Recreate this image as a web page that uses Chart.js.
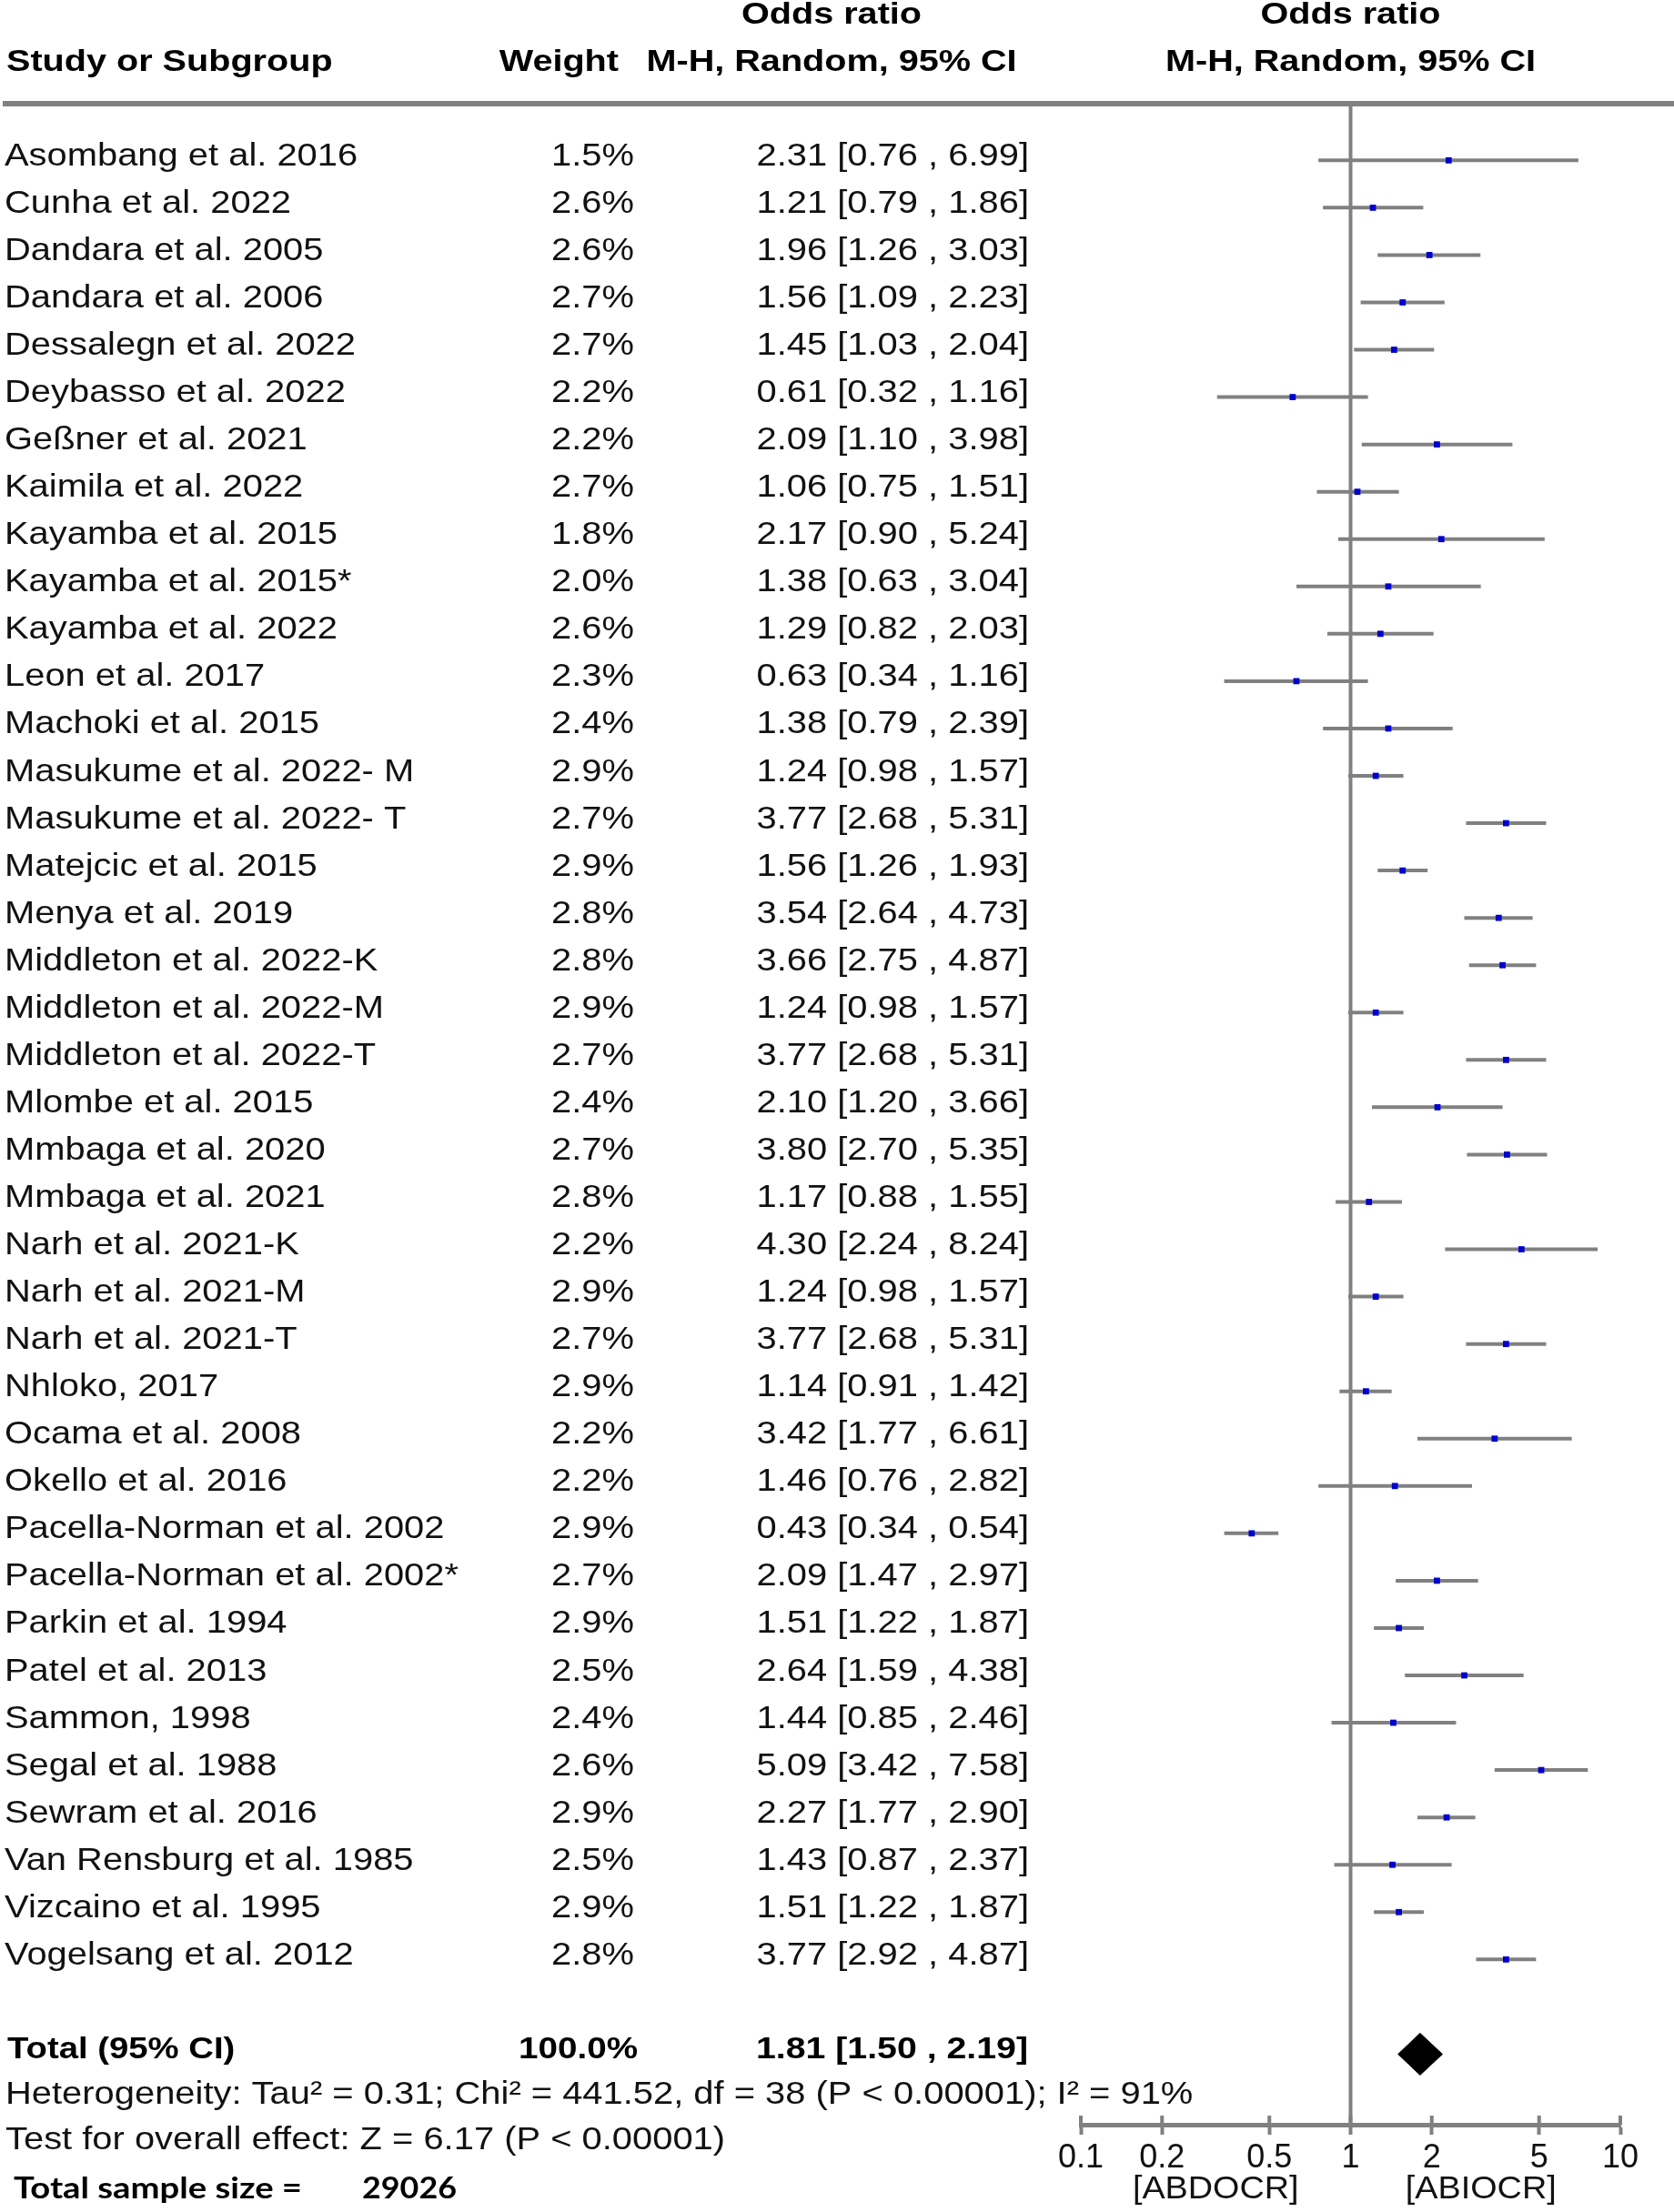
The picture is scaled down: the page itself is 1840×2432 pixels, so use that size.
<!DOCTYPE html>
<html><head><meta charset="utf-8">
<script src="https://cdn.jsdelivr.net/npm/chart.js@4.4.1/dist/chart.umd.min.js"></script>
<style>html,body{margin:0;padding:0;background:#fff}canvas{display:block;background:#fff}</style>
</head><body>
<canvas id="c" width="1840" height="2432"></canvas>
<script>
// ---------- data ----------
const studies = [
  "Asombang et al. 2016","Cunha et al. 2022","Dandara et al. 2005","Dandara et al. 2006",
  "Dessalegn et al. 2022","Deybasso et al. 2022","Geßner et al. 2021","Kaimila et al. 2022",
  "Kayamba et al. 2015","Kayamba et al. 2015*","Kayamba et al. 2022","Leon et al. 2017",
  "Machoki et al. 2015","Masukume et al. 2022- M","Masukume et al. 2022- T","Matejcic et al. 2015",
  "Menya et al. 2019","Middleton et al. 2022-K","Middleton et al. 2022-M","Middleton et al. 2022-T",
  "Mlombe et al. 2015","Mmbaga et al. 2020","Mmbaga et al. 2021","Narh et al. 2021-K",
  "Narh et al. 2021-M","Narh et al. 2021-T","Nhloko, 2017","Ocama et al. 2008",
  "Okello et al. 2016","Pacella-Norman et al. 2002","Pacella-Norman et al. 2002*","Parkin et al. 1994",
  "Patel et al. 2013","Sammon, 1998","Segal et al. 1988","Sewram et al. 2016",
  "Van Rensburg et al. 1985","Vizcaino et al. 1995","Vogelsang et al. 2012"
];
const weights = [
  "1.5%","2.6%","2.6%","2.7%","2.7%","2.2%","2.2%","2.7%","1.8%","2.0%",
  "2.6%","2.3%","2.4%","2.9%","2.7%","2.9%","2.8%","2.8%","2.9%","2.7%",
  "2.4%","2.7%","2.8%","2.2%","2.9%","2.7%","2.9%","2.2%","2.2%","2.9%",
  "2.7%","2.9%","2.5%","2.4%","2.6%","2.9%","2.5%","2.9%","2.8%"
];
const oddsRatios = [
  2.31,1.21,1.96,1.56,1.45,0.61,2.09,1.06,2.17,1.38,
  1.29,0.63,1.38,1.24,3.77,1.56,3.54,3.66,1.24,3.77,
  2.10,3.80,1.17,4.30,1.24,3.77,1.14,3.42,1.46,0.43,
  2.09,1.51,2.64,1.44,5.09,2.27,1.43,1.51,3.77
];
const ciLower = [
  0.76,0.79,1.26,1.09,1.03,0.32,1.10,0.75,0.90,0.63,
  0.82,0.34,0.79,0.98,2.68,1.26,2.64,2.75,0.98,2.68,
  1.20,2.70,0.88,2.24,0.98,2.68,0.91,1.77,0.76,0.34,
  1.47,1.22,1.59,0.85,3.42,1.77,0.87,1.22,2.92
];
const ciUpper = [
  6.99,1.86,3.03,2.23,2.04,1.16,3.98,1.51,5.24,3.04,
  2.03,1.16,2.39,1.57,5.31,1.93,4.73,4.87,1.57,5.31,
  3.66,5.35,1.55,8.24,1.57,5.31,1.42,6.61,2.82,0.54,
  2.97,1.87,4.38,2.46,7.58,2.90,2.37,1.87,4.87
];
const totalLabel = "Total (95% CI)";
const totalWeight = "100.0%";
const totalOR = 1.81, totalLower = 1.50, totalUpper = 2.19;
const xTickValues = [0.1, 0.2, 0.5, 1, 2, 5, 10];
const heterogeneityText = "Heterogeneity: Tau\u00B2 = 0.31; Chi\u00B2 = 441.52, df = 38 (P < 0.00001); I\u00B2 = 91%";
const overallEffectText = "Test for overall effect: Z = 6.17 (P < 0.00001)";
const sampleSizeLabel = "Total sample size =";
const sampleSizeValue = "29026";
const favoursLeft = "[ABDOCR]", favoursRight = "[ABIOCR]";
const headerStudy = "Study or Subgroup", headerWeight = "Weight";
const headerOR = "Odds ratio", headerMethod = "M-H, Random, 95% CI";

// ---------- layout constants ----------
const TOTAL_ROW = 40;
const Y_MIN = -1.197, Y_MAX = 41.49;
const GRAY = '#808080';
const BODY = '35px "Liberation Sans", Arial, sans-serif';
const BOLD = 'bold 33px "Liberation Sans", Arial, sans-serif';

function fmt(v){ return v.toFixed(2); }
function orText(o,l,h){ return fmt(o) + " [" + fmt(l) + " , " + fmt(h) + "]"; }

function txt(ctx, s, x, y, font, align, sx, color, targetW){
  ctx.save();
  ctx.font = font;
  ctx.fillStyle = color || '#000';
  ctx.textAlign = align;
  ctx.textBaseline = 'alphabetic';
  if (targetW) { sx = targetW / ctx.measureText(s).width; }
  ctx.translate(x, y);
  ctx.scale(sx, 1);
  ctx.fillText(s, 0, 0);
  ctx.restore();
}

// ---------- datasets ----------
const datasets = [];
// reference line at OR = 1
datasets.push({
  data: [{x:1, y:Y_MIN}, {x:1, y:Y_MAX}],
  showLine: true, borderColor: GRAY, borderWidth: 4, pointRadius: 0, order: 3
});
studies.forEach((s, i) => {
  datasets.push({
    data: [{x: ciLower[i], y: i}, {x: ciUpper[i], y: i}],
    showLine: true, borderColor: GRAY, borderWidth: 4, pointRadius: 0, order: 2
  });
});
datasets.push({
  data: oddsRatios.map((v, i) => ({x: v, y: i})),
  pointStyle: 'rect', pointRadius: 4.8, backgroundColor: '#0000CC', borderWidth: 0, order: 0
});
const DH = 0.442;
datasets.push({
  data: [{x: totalLower, y: TOTAL_ROW}, {x: totalOR, y: TOTAL_ROW - DH}, {x: totalUpper, y: TOTAL_ROW},
         {x: totalOR, y: TOTAL_ROW + DH}, {x: totalLower, y: TOTAL_ROW}],
  showLine: true, fill: 'shape', backgroundColor: '#000', borderColor: '#000', borderWidth: 1, pointRadius: 0,
  tension: 0, order: 0
});

// ---------- text plugin ----------
const forestText = {
  id: 'forestText',
  afterDraw(chart){
    const ctx = chart.ctx;
    const ys = chart.scales.y, xs = chart.scales.x;
    // header line
    ctx.save();
    ctx.strokeStyle = GRAY; ctx.lineWidth = 6;
    ctx.beginPath(); ctx.moveTo(3, chart.chartArea.top); ctx.lineTo(1840, chart.chartArea.top); ctx.stroke();
    // upward part of axis ticks
    ctx.lineWidth = 4;
    xTickValues.forEach(v => {
      const px = xs.getPixelForValue(v);
      ctx.beginPath(); ctx.moveTo(px, chart.chartArea.bottom - 10); ctx.lineTo(px, chart.chartArea.bottom); ctx.stroke();
    });
    ctx.restore();

    // headers
    const cL = 914, cR = xs.getPixelForValue(1);
    txt(ctx, headerOR, cL, 26, BOLD, 'center', 1.2);
    txt(ctx, headerOR, cR, 26, BOLD, 'center', 1.2);
    txt(ctx, headerStudy, 7, 78, BOLD, 'left', 1.2);
    txt(ctx, headerWeight, 680, 78, BOLD, 'right', 1.2);
    txt(ctx, headerMethod, cL, 78, BOLD, 'center', 1.2);
    txt(ctx, headerMethod, cR, 78, BOLD, 'center', 1.2);

    // study rows
    studies.forEach((s, i) => {
      const by = ys.getPixelForValue(i) + 5.5;
      txt(ctx, s, 5, by, BODY, 'left', 1.14, '#111');
      txt(ctx, weights[i], 697, by, BODY, 'right', 1.14, '#111');
      txt(ctx, orText(oddsRatios[i], ciLower[i], ciUpper[i]), 1131, by, BODY, 'right', 1.14, '#111');
    });
    // total row
    const ty = ys.getPixelForValue(TOTAL_ROW) + 5;
    txt(ctx, totalLabel, 8, ty, BOLD, 'left', 1.16);
    txt(ctx, totalWeight, 701, ty, BOLD, 'right', 1.17);
    txt(ctx, orText(totalOR, totalLower, totalUpper), 1130, ty, BOLD, 'right', 1.19);
    // footnotes
    txt(ctx, heterogeneityText, 6, 2313, BODY, 'left', 1.14, '#111');
    txt(ctx, overallEffectText, 6, 2363, BODY, 'left', 1.14, '#111');
    txt(ctx, sampleSizeLabel, 15, 2417, 'bold 33px Lato, "Liberation Sans", sans-serif', 'left', 1, '#000', 317);
    txt(ctx, sampleSizeValue, 398, 2417, 'bold 33px Lato, "Liberation Sans", sans-serif', 'left', 1, '#000', 104);
    // favours labels
    const pL = xs.getPixelForValue(0.1), p1 = xs.getPixelForValue(1), pR = xs.getPixelForValue(10);
    txt(ctx, favoursLeft, (pL + p1) / 2, 2417, BODY, 'center', 1.08, '#111');
    txt(ctx, favoursRight, (p1 + pR) / 2 - 5, 2417, BODY, 'center', 1.08, '#111');
  }
};

new Chart(document.getElementById('c'), {
  type: 'scatter',
  data: { datasets },
  options: {
    responsive: false,
    devicePixelRatio: 1,
    animation: false,
    layout: { padding: { left: 1188, right: 59, top: 114, bottom: 0 } },
    plugins: { legend: { display: false }, tooltip: { enabled: false } },
    scales: {
      x: {
        type: 'logarithmic', min: 0.1, max: 10,
        afterBuildTicks: (s) => { s.ticks = xTickValues.map(v => ({ value: v })); },
        afterFit: (s) => { s.height = 96; },
        border: { display: true, color: GRAY, width: 5 },
        grid: { drawOnChartArea: false, drawTicks: true, tickLength: 11, tickWidth: 4, tickColor: GRAY },
        ticks: {
          autoSkip: false, maxRotation: 0, padding: 4, color: '#111',
          font: { family: '"Liberation Sans", Arial, sans-serif', size: 36 },
          callback: (v) => String(v)
        }
      },
      y: {
        type: 'linear', min: Y_MIN, max: Y_MAX, reverse: true, display: false
      }
    }
  },
  plugins: [forestText]
});
</script>
</body></html>
